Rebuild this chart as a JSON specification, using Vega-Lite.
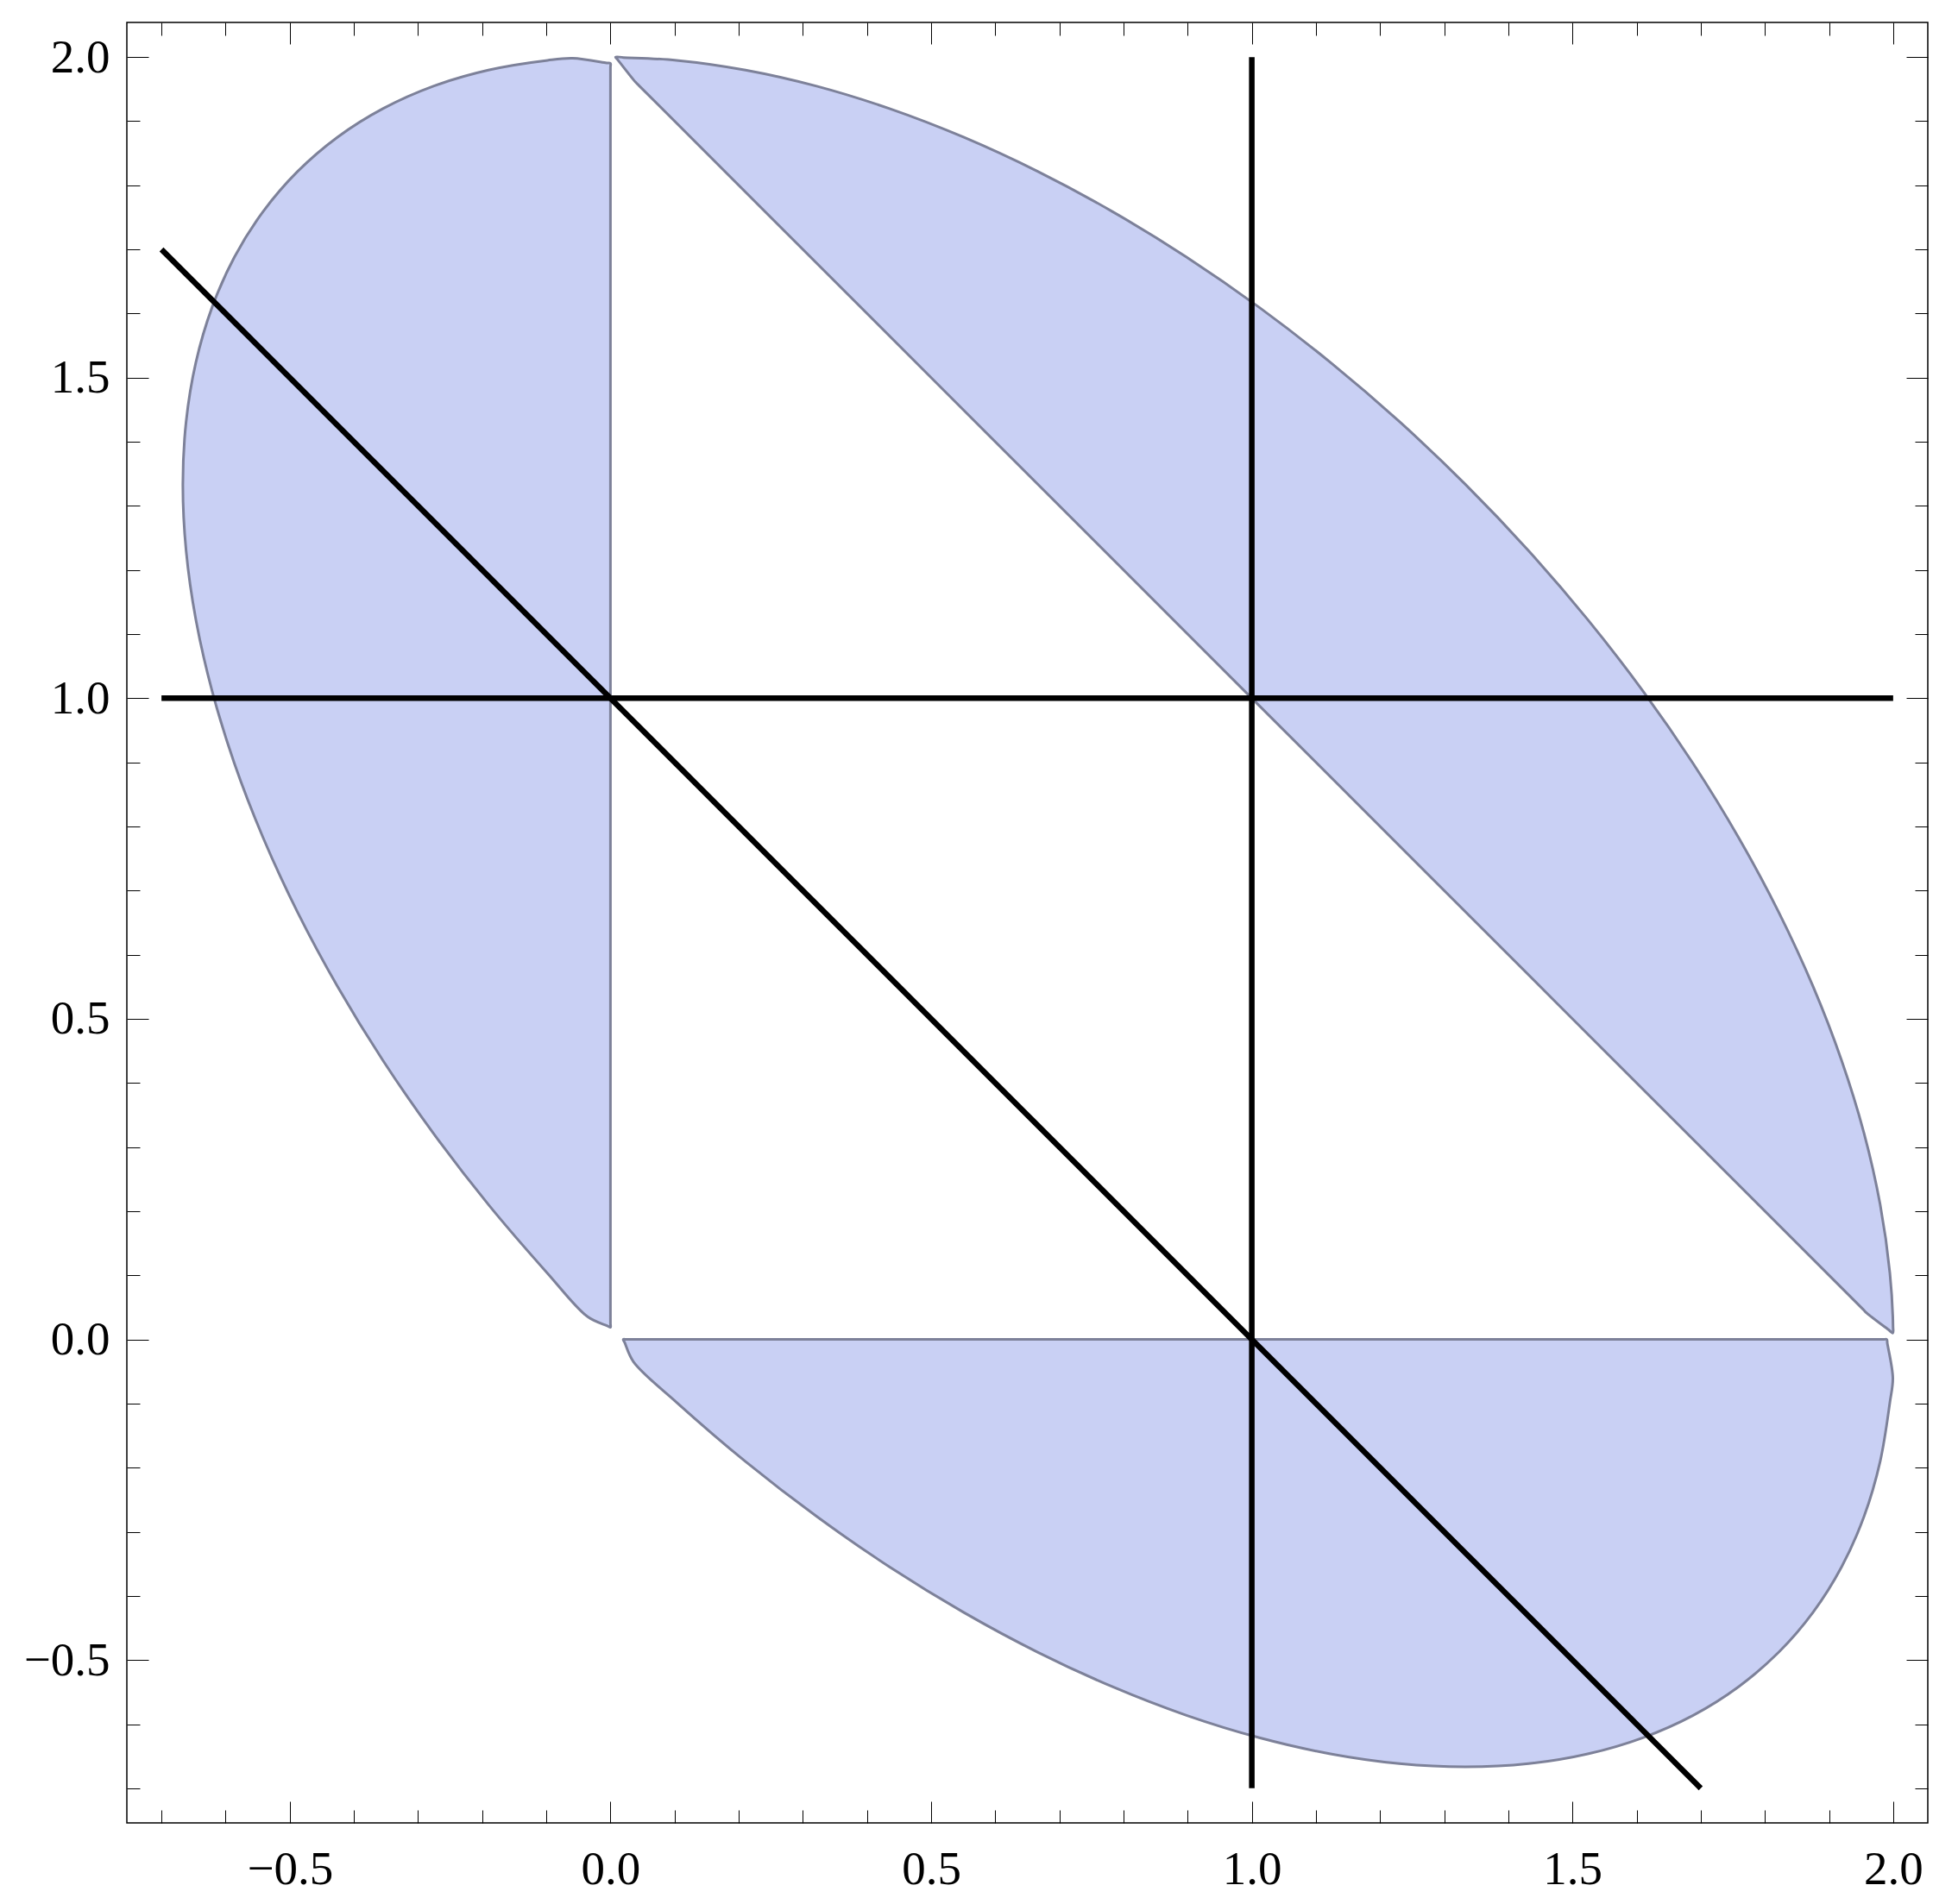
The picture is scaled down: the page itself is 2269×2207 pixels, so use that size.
{
  "$schema": "https://vega.github.io/schema/vega-lite/v6.json",
  "width": 2087,
  "height": 2087,
  "autosize": {"type": "none"},
  "padding": {"left": 147, "top": 26, "right": 35, "bottom": 94},
  "background": "white",
  "config": {
    "view": {"stroke": "black", "strokeWidth": 1.5},
    "axis": {
      "domain": false,
      "grid": false,
      "ticks": true,
      "tickColor": "black",
      "tickWidth": 1,
      "labelFont": "Liberation Serif",
      "labelFontSize": 55,
      "labelColor": "black",
      "labelFlush": false,
      "labelOverlap": false,
      "title": null
    }
  },
  "datasets": {
    "poly": [
      {"p": "left", "i": 0, "x": 0, "y": 1.0},
      {"p": "left", "i": 1, "x": 0, "y": 0.025},
      {"p": "left", "i": 2, "x": 0, "y": 0.019},
      {"p": "left", "i": 3, "x": -0.0049, "y": 0.0212},
      {"p": "left", "i": 4, "x": -0.035, "y": 0.035},
      {"p": "left", "i": 5, "x": -0.0981, "y": 0.1032},
      {"p": "left", "i": 6, "x": -0.1904, "y": 0.2106},
      {"p": "left", "i": 7, "x": -0.2761, "y": 0.3216},
      {"p": "left", "i": 8, "x": -0.3547, "y": 0.4351},
      {"p": "left", "i": 9, "x": -0.4255, "y": 0.5505},
      {"p": "left", "i": 10, "x": -0.488, "y": 0.6667},
      {"p": "left", "i": 11, "x": -0.5417, "y": 0.7829},
      {"p": "left", "i": 12, "x": -0.5863, "y": 0.8982},
      {"p": "left", "i": 13, "x": -0.6212, "y": 1.0118},
      {"p": "left", "i": 14, "x": -0.6464, "y": 1.1227},
      {"p": "left", "i": 15, "x": -0.6616, "y": 1.2302},
      {"p": "left", "i": 16, "x": -0.6667, "y": 1.3333},
      {"p": "left", "i": 17, "x": -0.6616, "y": 1.4314},
      {"p": "left", "i": 18, "x": -0.6464, "y": 1.5237},
      {"p": "left", "i": 19, "x": -0.6212, "y": 1.6095},
      {"p": "left", "i": 20, "x": -0.5863, "y": 1.6881},
      {"p": "left", "i": 21, "x": -0.5417, "y": 1.7589},
      {"p": "left", "i": 22, "x": -0.488, "y": 1.8214},
      {"p": "left", "i": 23, "x": -0.4255, "y": 1.8751},
      {"p": "left", "i": 24, "x": -0.3547, "y": 1.9196},
      {"p": "left", "i": 25, "x": -0.2761, "y": 1.9546},
      {"p": "left", "i": 26, "x": -0.1904, "y": 1.9797},
      {"p": "left", "i": 27, "x": -0.0981, "y": 1.9949},
      {"p": "left", "i": 28, "x": -0.059, "y": 1.998},
      {"p": "left", "i": 29, "x": -0.0059, "y": 1.9908},
      {"p": "left", "i": 30, "x": 0, "y": 1.99},
      {"p": "left", "i": 31, "x": 0, "y": 1.984},
      {"p": "left", "i": 32, "x": 0, "y": 1.0},

      {"p": "bottom", "i": 0, "x": 1.0, "y": 0},
      {"p": "bottom", "i": 1, "x": 0.026, "y": 0},
      {"p": "bottom", "i": 2, "x": 0.02, "y": 0},
      {"p": "bottom", "i": 3, "x": 0.0222, "y": -0.0049},
      {"p": "bottom", "i": 4, "x": 0.036, "y": -0.035},
      {"p": "bottom", "i": 5, "x": 0.1032, "y": -0.0981},
      {"p": "bottom", "i": 6, "x": 0.2106, "y": -0.1904},
      {"p": "bottom", "i": 7, "x": 0.3216, "y": -0.2761},
      {"p": "bottom", "i": 8, "x": 0.4351, "y": -0.3547},
      {"p": "bottom", "i": 9, "x": 0.5505, "y": -0.4255},
      {"p": "bottom", "i": 10, "x": 0.6667, "y": -0.488},
      {"p": "bottom", "i": 11, "x": 0.7829, "y": -0.5417},
      {"p": "bottom", "i": 12, "x": 0.8982, "y": -0.5863},
      {"p": "bottom", "i": 13, "x": 1.0118, "y": -0.6212},
      {"p": "bottom", "i": 14, "x": 1.1227, "y": -0.6464},
      {"p": "bottom", "i": 15, "x": 1.2302, "y": -0.6616},
      {"p": "bottom", "i": 16, "x": 1.3333, "y": -0.6667},
      {"p": "bottom", "i": 17, "x": 1.4314, "y": -0.6616},
      {"p": "bottom", "i": 18, "x": 1.5237, "y": -0.6464},
      {"p": "bottom", "i": 19, "x": 1.6095, "y": -0.6212},
      {"p": "bottom", "i": 20, "x": 1.6881, "y": -0.5863},
      {"p": "bottom", "i": 21, "x": 1.7589, "y": -0.5417},
      {"p": "bottom", "i": 22, "x": 1.8214, "y": -0.488},
      {"p": "bottom", "i": 23, "x": 1.8751, "y": -0.4255},
      {"p": "bottom", "i": 24, "x": 1.9196, "y": -0.3547},
      {"p": "bottom", "i": 25, "x": 1.9546, "y": -0.2761},
      {"p": "bottom", "i": 26, "x": 1.9797, "y": -0.1904},
      {"p": "bottom", "i": 27, "x": 1.9949, "y": -0.0981},
      {"p": "bottom", "i": 28, "x": 1.9995, "y": -0.06},
      {"p": "bottom", "i": 29, "x": 1.9909, "y": -0.006},
      {"p": "bottom", "i": 30, "x": 1.99, "y": 0},
      {"p": "bottom", "i": 31, "x": 1.984, "y": 0},
      {"p": "bottom", "i": 32, "x": 1.0, "y": 0},

      {"p": "band", "i": 0, "x": 1.0, "y": 1.0},
      {"p": "band", "i": 1, "x": 0.045, "y": 1.955},
      {"p": "band", "i": 2, "x": 0.039, "y": 1.961},
      {"p": "band", "i": 3, "x": 0.012, "y": 1.995},
      {"p": "band", "i": 4, "x": 0.008, "y": 2.0},
      {"p": "band", "i": 5, "x": 0.0204, "y": 1.9993},
      {"p": "band", "i": 6, "x": 0.1032, "y": 1.9949},
      {"p": "band", "i": 7, "x": 0.2106, "y": 1.9797},
      {"p": "band", "i": 8, "x": 0.3216, "y": 1.9546},
      {"p": "band", "i": 9, "x": 0.4351, "y": 1.9196},
      {"p": "band", "i": 10, "x": 0.5505, "y": 1.8751},
      {"p": "band", "i": 11, "x": 0.6667, "y": 1.8214},
      {"p": "band", "i": 12, "x": 0.7829, "y": 1.7589},
      {"p": "band", "i": 13, "x": 0.8982, "y": 1.6881},
      {"p": "band", "i": 14, "x": 1.0118, "y": 1.6095},
      {"p": "band", "i": 15, "x": 1.1227, "y": 1.5237},
      {"p": "band", "i": 16, "x": 1.2302, "y": 1.4314},
      {"p": "band", "i": 17, "x": 1.3333, "y": 1.3333},
      {"p": "band", "i": 18, "x": 1.4314, "y": 1.2302},
      {"p": "band", "i": 19, "x": 1.5237, "y": 1.1227},
      {"p": "band", "i": 20, "x": 1.6095, "y": 1.0118},
      {"p": "band", "i": 21, "x": 1.6881, "y": 0.8982},
      {"p": "band", "i": 22, "x": 1.7589, "y": 0.7829},
      {"p": "band", "i": 23, "x": 1.8214, "y": 0.6667},
      {"p": "band", "i": 24, "x": 1.8751, "y": 0.5505},
      {"p": "band", "i": 25, "x": 1.9196, "y": 0.4351},
      {"p": "band", "i": 26, "x": 1.9546, "y": 0.3216},
      {"p": "band", "i": 27, "x": 1.9797, "y": 0.2106},
      {"p": "band", "i": 28, "x": 1.9949, "y": 0.1032},
      {"p": "band", "i": 29, "x": 1.9998, "y": 0.02},
      {"p": "band", "i": 30, "x": 1.9995, "y": 0.01},
      {"p": "band", "i": 31, "x": 1.9942, "y": 0.014},
      {"p": "band", "i": 32, "x": 1.959, "y": 0.041},
      {"p": "band", "i": 33, "x": 1.953, "y": 0.047},
      {"p": "band", "i": 34, "x": 1.0, "y": 1.0}
    ],
    "lines": [
      {"x1": -0.7, "y1": 1, "x2": 2.0, "y2": 1},
      {"x1": 1, "y1": -0.7, "x2": 1, "y2": 2.0},
      {"x1": -0.7, "y1": 1.7, "x2": 1.7, "y2": -0.7}
    ]
  },
  "resolve": {"axis": {"x": "independent", "y": "independent"}},
  "layer": [
    {
      "data": {"name": "poly"},
      "mark": {"type": "line", "fill": "#c9d0f4", "stroke": "#7d8199", "strokeWidth": 3, "interpolate": "catmull-rom", "strokeJoin": "round"},
      "encoding": {
        "x": {
          "field": "x", "type": "quantitative",
          "scale": {"domain": [-0.754, 2.054], "nice": false, "zero": false},
          "axis": {
            "orient": "bottom",
            "values": [-0.7, -0.6, -0.5, -0.4, -0.3, -0.2, -0.1, 0, 0.1, 0.2, 0.3, 0.4, 0.5, 0.6, 0.7, 0.8, 0.9, 1.0, 1.1, 1.2, 1.3, 1.4, 1.5, 1.6, 1.7, 1.8, 1.9, 2.0],
            "tickSize": {"condition": {"test": "abs(datum.value * 2 - round(datum.value * 2)) < 0.01", "value": -25}, "value": -15},
            "labelExpr": "abs(datum.value * 2 - round(datum.value * 2)) < 0.01 ? format(datum.value, '.1f') : ''",
            "labelPadding": 52
          }
        },
        "y": {
          "field": "y", "type": "quantitative",
          "scale": {"domain": [-0.754, 2.054], "nice": false, "zero": false},
          "axis": {
            "orient": "left",
            "values": [-0.7, -0.6, -0.5, -0.4, -0.3, -0.2, -0.1, 0, 0.1, 0.2, 0.3, 0.4, 0.5, 0.6, 0.7, 0.8, 0.9, 1.0, 1.1, 1.2, 1.3, 1.4, 1.5, 1.6, 1.7, 1.8, 1.9, 2.0],
            "tickSize": {"condition": {"test": "abs(datum.value * 2 - round(datum.value * 2)) < 0.01", "value": -25}, "value": -15},
            "labelExpr": "abs(datum.value * 2 - round(datum.value * 2)) < 0.01 ? format(datum.value, '.1f') : ''",
            "labelPadding": 45
          }
        },
        "detail": {"field": "p", "type": "nominal"},
        "order": {"field": "i", "type": "quantitative"}
      }
    },
    {
      "data": {"name": "lines"},
      "mark": {"type": "rule", "color": "black", "strokeWidth": 6.5, "strokeCap": "butt"},
      "encoding": {
        "x": {
          "field": "x1", "type": "quantitative",
          "scale": {"domain": [-0.754, 2.054], "nice": false, "zero": false},
          "axis": {
            "orient": "top",
            "labels": false,
            "values": [-0.7, -0.6, -0.5, -0.4, -0.3, -0.2, -0.1, 0, 0.1, 0.2, 0.3, 0.4, 0.5, 0.6, 0.7, 0.8, 0.9, 1.0, 1.1, 1.2, 1.3, 1.4, 1.5, 1.6, 1.7, 1.8, 1.9, 2.0],
            "tickSize": {"condition": {"test": "abs(datum.value * 2 - round(datum.value * 2)) < 0.01", "value": -25}, "value": -15}
          }
        },
        "x2": {"field": "x2"},
        "y": {
          "field": "y1", "type": "quantitative",
          "scale": {"domain": [-0.754, 2.054], "nice": false, "zero": false},
          "axis": {
            "orient": "right",
            "labels": false,
            "values": [-0.7, -0.6, -0.5, -0.4, -0.3, -0.2, -0.1, 0, 0.1, 0.2, 0.3, 0.4, 0.5, 0.6, 0.7, 0.8, 0.9, 1.0, 1.1, 1.2, 1.3, 1.4, 1.5, 1.6, 1.7, 1.8, 1.9, 2.0],
            "tickSize": {"condition": {"test": "abs(datum.value * 2 - round(datum.value * 2)) < 0.01", "value": -25}, "value": -15}
          }
        },
        "y2": {"field": "y2"}
      }
    }
  ]
}
